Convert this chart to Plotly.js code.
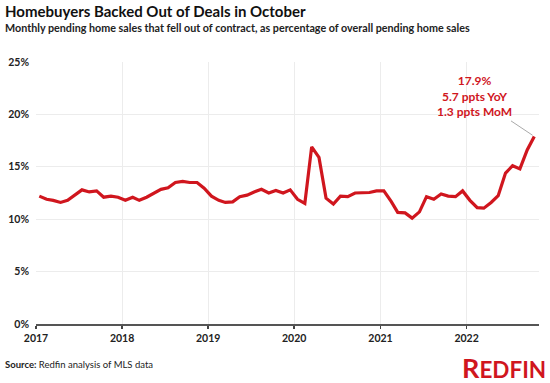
<!DOCTYPE html>
<html>
<head>
<meta charset="utf-8">
<script src="https://cdn.plot.ly/plotly-3.0.1.min.js"></script>
<style>
html,body{margin:0;padding:0;background:#fff;}
#chart{width:550px;height:383px;}
</style>
</head>
<body>
<div id="chart"></div>
<script>
// Monthly share of pending sales that fell out of contract (%), Jan 2017 - Oct 2022
var startYear = 2017;
var values2017 = [12.2, 11.9, 11.8, 11.6, 11.8, 12.3, 12.8, 12.6, 12.7, 12.1, 12.2, 12.1];
var values2018 = [11.8, 12.1, 11.8, 12.1, 12.5, 12.85, 13.0, 13.5, 13.6, 13.5, 13.5, 12.95];
var values2019 = [12.2, 11.8, 11.6, 11.65, 12.15, 12.3, 12.6, 12.85, 12.5, 12.75, 12.5, 12.8];
var values2020 = [11.9, 11.5, 16.9, 15.9, 12.0, 11.45, 12.2, 12.15, 12.5, 12.5, 12.55, 12.7];
var values2021 = [12.7, 11.7, 10.65, 10.6, 10.1, 10.7, 12.15, 11.9, 12.4, 12.2, 12.15, 12.7];
var values2022 = [11.8, 11.1, 11.05, 11.6, 12.25, 14.4, 15.1, 14.8, 16.6, 17.9];
var yearTicks = ['2017', '2018', '2019', '2020', '2021', '2022'];
var yTicks = [0, 5, 10, 15, 20, 25];
var calloutLines = ['17.9%', '5.7 ppts YoY', '1.3 ppts MoM'];

var values = [].concat(values2017, values2018, values2019, values2020, values2021, values2022);
function pad(n){ return n < 10 ? '0' + n : '' + n; }
var dates = values.map(function(v, i){
  var y = startYear + Math.floor(i / 12);
  var m = (i % 12) + 1;
  return y + '-' + pad(m) + '-15';
});
var lastIdx = values.length - 1;

var red = '#d0161e';
var fontFam = 'Lato, "Liberation Sans", Arial, sans-serif';

var trace = {
  x: dates,
  y: values,
  type: 'scatter',
  mode: 'lines',
  line: {color: red, width: 3.2, shape: 'linear'},
  hoverinfo: 'skip'
};

var layout = {
  width: 550,
  height: 383,
  margin: {l: 36, r: 11, t: 62, b: 59},
  paper_bgcolor: '#fff',
  plot_bgcolor: '#fff',
  showlegend: false,
  font: {family: fontFam, color: '#222'},
  xaxis: {
    type: 'date',
    range: ['2017-01-01', '2022-11-04'],
    tickvals: yearTicks.map(function(y){ return y + '-01-01'; }),
    ticktext: yearTicks,
    ticks: 'outside',
    ticklen: 3,
    tickwidth: 1.5,
    tickcolor: '#444',
    showline: true,
    linecolor: '#555',
    linewidth: 2,
    showgrid: true,
    gridcolor: '#ececec',
    gridwidth: 1,
    zeroline: false,
    tickfont: {family: fontFam, size: 10.5, color: '#222', weight: 'bold'},
    fixedrange: true
  },
  yaxis: {
    range: [0, 25],
    tickvals: yTicks,
    ticktext: yTicks.map(function(t){ return t + '%'; }),
    showgrid: true,
    gridcolor: '#ececec',
    gridwidth: 1,
    zeroline: false,
    showline: false,
    ticks: '',
    ticklabelstandoff: 6,
    tickfont: {family: fontFam, size: 10.5, color: '#222', weight: 'bold'},
    fixedrange: true
  },
  annotations: [
    {
      xref: 'paper', yref: 'paper', x: -0.0655, y: 1.0, xanchor: 'left', yanchor: 'bottom',
      yshift: 40,
      text: '<b>Homebuyers Backed Out of Deals in October</b>',
      showarrow: false,
      font: {family: fontFam, size: 15, color: '#111'}
    },
    {
      xref: 'paper', yref: 'paper', x: -0.0655, y: 1.0, xanchor: 'left', yanchor: 'bottom',
      yshift: 26,
      text: '<b>Monthly pending home sales that fell out of contract, as percentage of overall pending home sales</b>',
      showarrow: false,
      font: {family: fontFam, size: 10.75, color: '#222'}
    },
    {
      x: dates[lastIdx], y: values[lastIdx], xref: 'x', yref: 'y',
      text: '<b>' + calloutLines.join('<br>') + '</b>',
      showarrow: true,
      arrowhead: 0,
      arrowwidth: 1,
      arrowcolor: '#aaaaaa',
      ax: -60, ay: -40,
      standoff: 2,
      align: 'center',
      font: {family: fontFam, size: 12, color: red}
    },
    {
      xref: 'paper', yref: 'paper', x: -0.0655, y: 0, xanchor: 'left', yanchor: 'top',
      yshift: -33,
      text: '<b>Source:</b> Redfin analysis of MLS data',
      showarrow: false,
      font: {family: fontFam, size: 9.5, color: '#222'}
    },
    {
      xref: 'paper', yref: 'paper', x: 1.018, y: 0, xanchor: 'right', yanchor: 'top',
      yshift: -25,
      text: '<b><span style="font-size:27px">R</span>EDFIN</b>',
      showarrow: false,
      font: {family: fontFam, size: 22.5, color: red}
    }
  ]
};

Plotly.newPlot('chart', [trace], layout, {displayModeBar: false, staticPlot: true});
</script>
</body>
</html>
